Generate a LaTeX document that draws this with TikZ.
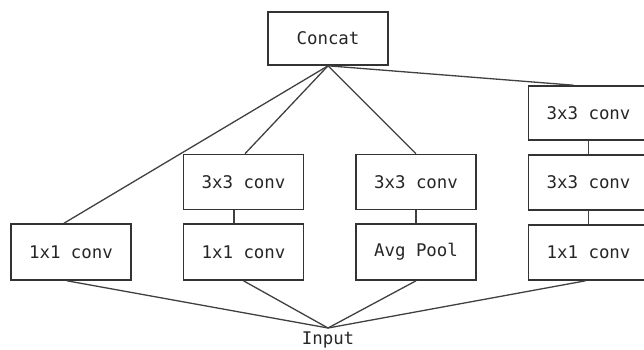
\documentclass[tikz,border=0pt]{standalone}
\usepackage{fontspec}
\setmonofont{DejaVu Sans Mono}
\begin{document}
\begin{tikzpicture}[x=1bp,y=-1bp,
  blk/.style={draw=black!80,line width=1.6bp,fill=white,minimum width=120bp,minimum height=55bp,inner sep=0pt,font=\ttfamily\fontsize{17.5}{20}\selectfont,text=black!85},
  wire/.style={draw=black!75,line width=1.3bp}]
\useasboundingbox (0,0) rectangle (644,349);
\begin{scope}
\clip (0,0) rectangle (644,349);
\coordinate (in) at (328,328);
\node[blk,minimum height=53bp] (concat) at (328,38.5) {Concat};
\node[blk,minimum height=54bp] (t4) at (588.5,113) {3x3 conv};
\node[blk] (m2) at (243.5,182) {3x3 conv};
\node[blk] (m3) at (416,182) {3x3 conv};
\node[blk] (m4) at (588.5,182.5) {3x3 conv};
\node[blk,minimum height=56bp] (b1) at (71,252) {1x1 conv};
\node[blk,minimum height=56bp] (b2) at (243.5,252) {1x1 conv};
\node[blk,minimum height=56bp] (b3) at (416,252) {Avg Pool};
\node[blk] (b4) at (588.5,252.5) {1x1 conv};
\draw[wire] (concat.south) -- ([xshift=-7bp]b1.north);
\draw[wire] (concat.south) -- ([xshift=1.5bp]m2.north);
\draw[wire] (concat.south) -- (m3.north);
\draw[wire] (concat.south) -- ([xshift=-15bp]t4.north);
\draw[wire] ([xshift=-9.5bp]m2.south) -- ([xshift=-9.5bp]b2.north);
\draw[wire] (m3.south) -- (b3.north);
\draw[wire] (t4.south) -- (m4.north);
\draw[wire] (m4.south) -- (b4.north);
\draw[wire] ([xshift=-4bp]b1.south) -- (in);
\draw[wire] (b2.south) -- (in);
\draw[wire] (b3.south) -- (in);
\draw[wire] ([xshift=-3bp]b4.south) -- (in);
\node[anchor=north,inner sep=0pt,font=\ttfamily\fontsize{17.5}{20}\selectfont,text=black!85] (inlbl) at (328,331.5) {Input};
\end{scope}
\end{tikzpicture}
\end{document}
